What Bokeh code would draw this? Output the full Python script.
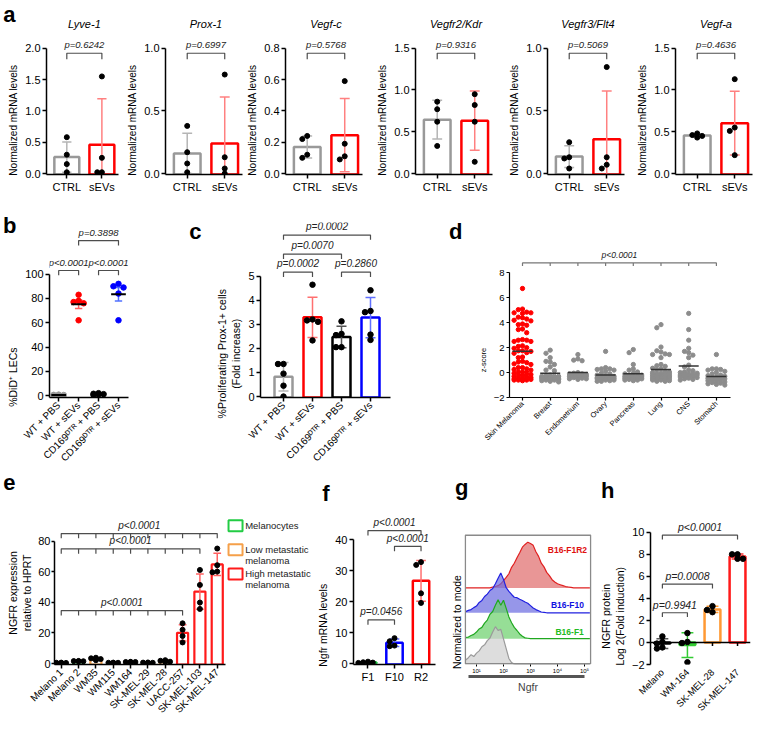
import math
import numpy as np
from bokeh.plotting import figure
from bokeh.models import Range1d, FixedTicker, LinearAxis, PrintfTickFormatter
from bokeh.layouts import row, column
from bokeh.embed import file_html
from bokeh.resources import INLINE
from bokeh.core.properties import value

FONT = "Liberation Sans"

# ------------------------------------------------------------------ data
a_genes = ["Lyve-1", "Prox-1", "Vegf-c", "Vegfr2/Kdr", "Vegfr3/Flt4", "Vegf-a"]
a_groups = ["CTRL", "sEVs"]
a_ctrl = [[0.58, 0.30, 0.15, 0.02], [0.38, 0.17, 0.08, 0.01], [0.24, 0.22, 0.12, 0.10],
          [0.86, 0.77, 0.62, 0.33], [0.25, 0.13, 0.12, 0.04], [0.48, 0.43, 0.46, 0.45]]
a_sevs = [[1.55, 0.25, 0.02, 0.02], [0.79, 0.13, 0.04, 0.0], [0.59, 0.19, 0.11, 0.09],
          [0.95, 0.82, 0.62, 0.14], [0.85, 0.13, 0.07, 0.04], [1.13, 0.55, 0.51, 0.22]]
a_ymax = [2.0, 1.0, 0.8, 1.5, 1.0, 1.5]
a_ystep = [0.5, 0.5, 0.2, 0.5, 0.5, 0.5]
a_pvals = ["p=0.6242", "p=0.6997", "p=0.5768", "p=0.9316", "p=0.5069", "p=0.4636"]

b_groups = ["WT + PBS", "WT + sEVs", "CD169\u1d30\u1d40\u1d3f + PBS", "CD169\u1d30\u1d40\u1d3f + sEVs"]
b_vals = [[0.8, 0.5, 0.3, 0.6], [83, 78, 77, 76, 62], [1.5, 2.0, 0.8, 1.2, 0.5], [92, 89, 90, 84, 62]]
b_pvals = ["p<0.0001", "p<0.0001", "p=0.3898"]

c_groups = b_groups
c_vals = [[1.35, 1.35, 0.95, 0.45, 0.0], [4.64, 3.16, 3.1, 3.2, 2.33],
          [3.12, 2.6, 2.55, 2.05, 2.05], [4.41, 3.55, 3.5, 2.57, 2.35]]
c_pvals = ["p=0.0002", "p=0.2860", "p=0.0070", "p=0.0002"]

d_groups = ["Skin Melanoma", "Breast", "Endometrium", "Ovary", "Pancreas", "Lung", "CNS", "Stomach"]
d_melanoma = [6.75, 5.05, 5.1, 4.85, 4.8, 4.75, 4.8, 4.4, 4.45, 4.3, 4.2, 4.15, 3.85, 3.9, 3.8,
              3.5, 3.45, 3.2, 2.65, 2.6, 2.6, 2.5, 2.5, 2.15, 2.1, 2.0, 1.95, 1.75, 1.7, 1.75,
              1.6, 1.55, 1.25, 1.2, 0.9, 0.85, 0.8, 0.7, 0.65, 0.4, 0.4, 0.3, 0.25, 0.2,
              0.05, 0.0, -0.05, 0.05, -0.2, -0.25, -0.2, -0.3, -0.15, -0.4, -0.45, -0.4, -0.5,
              -0.45, -0.6, -0.6, -0.55, -0.65, -0.6, -0.55]
d_breast = [1.8, 1.55, 1.2, 0.9, 0.85, 0.65, 0.45, 0.2, 0.15, -0.2, -0.25, -0.3, -0.3, -0.35,
            -0.4, -0.4, -0.45, -0.5, -0.5, -0.55, -0.55, -0.6, -0.6, -0.65, -0.7, -0.75, -0.5,
            -0.45, -0.35, -0.3]
d_endometrium = [1.45, 1.1, 1.0, 0.95, 0.0, -0.05, -0.1, -0.1, -0.15, -0.2, -0.2, -0.25, -0.3,
                 -0.3, -0.35, -0.4, -0.45, -0.5, -0.5, -0.55]
d_ovary = [1.7, 0.4, 0.3, 0.3, 0.25, 0.2, 0.1, -0.05, -0.1, -0.2, -0.25, -0.3, -0.3, -0.35, -0.4,
           -0.4, -0.45, -0.5, -0.5, -0.55, -0.6, -0.6, -0.65, -0.7, -0.7, -0.5, -0.45]
d_pancreas = [1.85, 1.6, 0.65, 0.3, 0.2, 0.05, -0.05, -0.1, -0.2, -0.25, -0.3, -0.3, -0.35, -0.4,
              -0.4, -0.45, -0.5, -0.5, -0.55, -0.6, -0.6, -0.65, -0.4, -0.3, -0.2]
d_lung = [3.85, 3.6, 2.05, 1.75, 1.65, 1.5, 1.45, 1.45, 1.2, 0.65, 0.55, 0.5, 0.35, 0.3, 0.2, 0.1,
          0.05, 0.0, -0.05, -0.1, -0.1, -0.15, -0.2, -0.2, -0.25, -0.3, -0.3, -0.35, -0.35, -0.4,
          -0.4, -0.45, -0.45, -0.5, -0.5, -0.55, -0.55, -0.6, -0.6, -0.65, -0.7, -0.7, -0.1,
          -0.2, -0.3]
d_cns = [4.75, 3.45, 2.6, 1.95, 1.7, 1.6, 1.4, 1.2, 0.6, 0.45, 0.2, 0.15, 0.05, 0.0, -0.05, -0.1,
         -0.15, -0.2, -0.25, -0.3, -0.3, -0.35, -0.4, -0.45, -0.5, -0.55, -0.6, -0.2, -0.1]
d_stomach = [1.45, 0.3, 0.3, 0.25, 0.2, 0.1, 0.0, -0.1, -0.2, -0.25, -0.3, -0.35, -0.4, -0.45,
             -0.5, -0.55, -0.6, -0.65, -0.7, -0.75, -0.8, -0.85, -0.9, -1.0, -0.95, -0.5, -0.4]
d_pval = "p<0.0001"

e_lines = ["Melano 1", "Melano 2", "WM35", "WM115", "WM164", "SK-MEL-29", "SK-MEL-28",
           "UACC-257", "SK-MEL-103", "SK-MEL-147"]
e_class = [0, 0, 1, 1, 1, 1, 1, 2, 2, 2]
e_class_names = ["Melanocytes", "Low metastatic\nmelanoma", "High metastatic\nmelanoma"]
e_vals = [[0.5, 0.3, 0.6, 0.4], [1.6, 1.5, 1.4, 1.7], [3.8, 3.4, 2.9, 2.2], [0.6, 0.5, 0.4, 0.5],
          [1.0, 1.1, 0.9, 1.0], [0.7, 0.5, 0.3, 0.6], [2.2, 1.8, 1.2, 1.0],
          [26.3, 22.1, 18.0, 13.8], [61.2, 51.4, 39.9, 35.7], [75.2, 64.3, 59.7, 60.1]]
e_pvals = ["p<0.0001", "p<0.0001", "p<0.0001"]

f_groups = ["F1", "F10", "R2"]
f_vals = [[0.3, 0.6, 0.2, 0.4], [8.2, 7.2, 5.6, 5.8], [32.8, 31.9, 22.7, 19.6]]
f_pvals = ["p<0.0001", "p<0.0001", "p=0.0456"]

g_names = ["B16-F1R2", "B16-F10", "B16-F1"]
g_logx = [round(0.6 + 0.1 * i, 1) for i in range(47)]
g_gray = [12, 18, 26, 21, 30, 36, 47, 52, 63, 70, 86, 100, 90, 93, 68, 42, 16, 5, 1] + [0] * 28
g_green = [3, 4, 8, 11, 17, 25, 29, 40, 48, 63, 70, 86, 100, 86, 99, 78, 56, 41, 29, 21, 12, 6, 2, 1] + [0] * 23
g_blue = [3, 6, 8, 13, 17, 26, 31, 41, 47, 56, 61, 73, 87, 100, 84, 63, 54, 46, 39, 38, 34, 31, 27, 24,
          18, 12, 8, 5, 2, 1] + [0] * 17
g_red = [0] * 10 + [2, 3, 5, 9, 16, 23, 31, 45, 54, 66, 77, 89, 95, 100, 97, 93, 79, 69, 54, 46, 34, 27,
                    18, 13, 9, 7, 5, 3, 2, 1] + [0] * 7

h_groups = ["Melano", "WM-164", "SK-MEL-28", "SK-MEL-147"]
h_vals = [[0.55, 0.05, -0.1, -0.45, -0.55], [0.85, 0.05, -0.05, -1.8], [3.3, 2.75, 2.95],
          [8.0, 8.0, 7.6, 7.6]]
h_pvals = ["p<0.0001", "p=0.0008", "p=0.9941"]


# ------------------------------------------------------------------ helpers
def base_fig(w, h, bl, br, bt, bb, xr, yr):
    p = figure(width=w, height=h, min_border_left=bl, min_border_right=br,
               min_border_top=bt, min_border_bottom=bb, x_range=Range1d(*xr), y_range=Range1d(*yr),
               output_backend="svg", toolbar_location=None, tools="", title=None)
    p.xgrid.visible = False
    p.ygrid.visible = False
    p.outline_line_color = None
    p.background_fill_color = "white"
    p.border_fill_color = "white"
    for ax in p.axis:
        ax.axis_line_width = 1.5
        ax.axis_line_color = "black"
        ax.major_tick_line_width = 1.5
        ax.major_tick_line_color = "black"
        ax.major_tick_out = 4
        ax.major_tick_in = 0
        ax.minor_tick_line_color = None
        ax.major_label_text_font = FONT
        ax.major_label_text_font_size = "11px"
        ax.major_label_text_color = "black"
        ax.major_label_standoff = 2
        ax.axis_label_text_font = FONT
        ax.axis_label_text_font_style = "normal"
        ax.axis_label_text_font_size = "10px"
        ax.axis_label_standoff = 3
        ax.axis_label_text_color = "black"
    return p


def ylabel(p, text, n_pad):
    # trailing no-break spaces push the rotated label down, so it centres on the drawn axis
    pad = "\u00a0" * n_pad
    p.yaxis.axis_label = "\n".join(ln + pad for ln in text.split("\n"))


def cat_axis(p, names, fs="11px", rot=None):
    n = len(names)
    p.xaxis.ticker = FixedTicker(ticks=list(range(1, n + 1)))
    p.xaxis.major_label_overrides = {i + 1: nm for i, nm in enumerate(names)}
    p.xaxis.major_label_text_font_size = fs
    if rot is not None:
        p.xaxis.major_label_orientation = rot


def letter_axis(p, ch, yv, standoff):
    yv = round(yv, 2)
    ax = LinearAxis(ticker=FixedTicker(ticks=[yv]), major_label_overrides={yv: ch},
                    axis_line_color=None, major_tick_line_color=None, minor_tick_line_color=None,
                    major_tick_out=0, major_tick_in=0, minor_tick_out=0, major_label_standoff=standoff,
                    major_label_text_font=FONT, major_label_text_font_style="bold",
                    major_label_text_font_size="22px", major_label_text_color="black")
    p.add_layout(ax, "left")


def bracket(p, x1, x2, y, leg, gap, text, fs="9.5px", ticks=False, color="#4d4d4d"):
    xs = [[x1, x1, x2, x2]]
    ys = [[y - leg, y, y, y - leg]]
    if ticks:
        for k in range(int(round(x1)) + 1, int(round(x2))):
            xs.append([k, k])
            ys.append([y, y - leg])
    p.multi_line(xs, ys, line_color=color, line_width=1.2)
    p.text(x=[(x1 + x2) / 2], y=[y + gap], text=[text], text_align="center", text_baseline="bottom",
           text_font=value(FONT), text_font_style="italic", text_font_size=fs, text_color="#222222")


def swarm(vals, ppu_y, ppu_x, dot, maxw):
    order = sorted(range(len(vals)), key=lambda i: -vals[i])
    placed = []
    offs = [0.0] * len(vals)
    cands = [0.0]
    k = 1
    while k * dot <= maxw + 1e-9:
        cands += [-k * dot, k * dot]
        k += 1
    for i in order:
        yp = vals[i] * ppu_y
        best, bestd = 0.0, -1
        for c in cands:
            dmin = min([math.hypot(c - px, yp - py) for px, py in placed] + [1e9])
            if dmin >= dot * 0.95:
                best = c
                break
            if dmin > bestd:
                best, bestd = c, dmin
        placed.append((best, yp))
        offs[i] = best / ppu_x
    return offs


def mean(v):
    return float(np.mean(v))


def sd(v):
    return float(np.std(v, ddof=1))


def errbars(p, xs, lo, hi, cap, colors, lw=1.5):
    p.segment(x0=xs, y0=lo, x1=xs, y1=hi, line_color=colors, line_width=lw)
    p.segment(x0=[x - cap for x in xs], y0=hi, x1=[x + cap for x in xs], y1=hi, line_color=colors, line_width=lw)
    p.segment(x0=[x - cap for x in xs], y0=lo, x1=[x + cap for x in xs], y1=lo, line_color=colors, line_width=lw)


def points(p, groups_vals, ppu_y, ppu_x, dot, maxw, colors, size):
    xs, ys, cs = [], [], []
    for gi, v in enumerate(groups_vals):
        offs = swarm(v, ppu_y, ppu_x, dot, maxw)
        for val, o in zip(v, offs):
            xs.append(gi + 1 + o)
            ys.append(val)
            cs.append(colors[gi])
    p.scatter(x=xs, y=ys, size=size, fill_color=cs, line_color=cs, marker="circle")


# ------------------------------------------------------------------ panel a  (row 0..195)
a_widths = [124, 120, 130, 132, 128, 127]
a_figs = []
for i in range(6):
    w, h = a_widths[i], 195
    bl, bt, bb = 40, 4, 20
    fw = 78
    br = w - bl - fw
    fh = h - bt - bb
    ymax = a_ymax[i]
    ppu = 126.0 / ymax
    y0 = -1.0 / ppu
    xppu = 38.0
    x0 = 1 - 22.0 / xppu
    p = base_fig(w, h, bl, br, bt, bb, (x0, x0 + fw / xppu), (y0, y0 + fh / ppu))
    ctrl, sev = a_ctrl[i], a_sevs[i]
    m = [mean(ctrl), mean(sev)]
    s = [sd(ctrl), sd(sev)]
    p.vbar(x=[1, 2], top=m, bottom=y0, width=27.0 / xppu, fill_color="white",
           line_color=["#999999", "#ff0000"], line_width=2.5)
    errbars(p, [1, 2], [m[0] - s[0], m[1] - s[1]], [m[0] + s[0], m[1] + s[1]], 5.0 / xppu,
            ["#b5b5b5", "#ff8080"], lw=1.5)
    points(p, [ctrl, sev], ppu, xppu, 5.0, 9.0, ["black", "black"], 5)
    bracket(p, 1, 2, ymax * 0.96, 6.0 / ppu, 3.0 / ppu, a_pvals[i])
    p.text(x=[1.5], y=[(174 - 24) / ppu], text=[a_genes[i]], text_align="center", text_baseline="middle",
           text_font=value(FONT), text_font_style="italic", text_font_size="11px", text_color="black")
    cat_axis(p, a_groups, fs="11px")
    p.yaxis.ticker = FixedTicker(ticks=[round(t, 3) for t in np.arange(0, ymax + 1e-9, a_ystep[i])])
    p.yaxis.formatter = PrintfTickFormatter(format="%.1f")
    p.yaxis.bounds = (y0, ymax)
    ylabel(p, "Normalized mRNA levels", 22)
    if i == 0:
        letter_axis(p, "a", (174 - 14) / ppu, -10)
    a_figs.append(p)

# ------------------------------------------------------------------ panel b  (row 195..470)
w, h, bl, br, bt, bb = 184, 275, 42, 56, 21, 71
fw, fh = w - bl - br, h - bt - bb
ppu = 1.27
y0 = -2.0 / ppu
xppu = 21.7
x0 = 1 - 10.0 / xppu
pb = base_fig(w, h, bl, br, bt, bb, (x0, x0 + fw / xppu), (y0, y0 + fh / ppu))
b_cols = ["#999999", "#ff0000", "#000000", "#0000ff"]
bm = [mean(v) for v in b_vals]
bsem = [sd(v) / math.sqrt(len(v)) for v in b_vals]
errbars(pb, [1, 2, 3, 4], [m - e for m, e in zip(bm, bsem)], [m + e for m, e in zip(bm, bsem)],
        4.0 / xppu, ["#b0b0b0", "#ff6060", "#555555", "#5070ff"], lw=1.5)
points(pb, b_vals, ppu, xppu, 5.5, 8.0, b_cols, 5.5)
pb.segment(x0=[x - 8.0 / xppu for x in [1, 2, 3, 4]], y0=bm, x1=[x + 8.0 / xppu for x in [1, 2, 3, 4]],
           y1=bm, line_color="black", line_width=2)
bracket(pb, 1, 2, 103, 5.0 / ppu, 3.0 / ppu, b_pvals[0])
bracket(pb, 3, 4, 103, 5.0 / ppu, 3.0 / ppu, b_pvals[1])
bracket(pb, 2, 4, 127.6, 5.0 / ppu, 3.0 / ppu, b_pvals[2])
cat_axis(pb, b_groups, fs="10px", rot=math.pi / 4)
pb.yaxis.ticker = FixedTicker(ticks=[0, 20, 40, 60, 80, 100])
pb.yaxis.bounds = (y0, 100)
ylabel(pb, "%DiD\u207a LECs", 46)
pb.yaxis.axis_label_text_font_size = "10.5px"
letter_axis(pb, "b", (397 - 219.5) / ppu, -12)

# ------------------------------------------------------------------ panel c
w, h, bl, br, bt, bb = 253, 275, 76, 47, 21, 71
fw, fh = w - bl - br, h - bt - bb
ppu = 25.2
y0 = -1.0 / ppu
xppu = 29.0
x0 = 1 - 23.0 / xppu
pc = base_fig(w, h, bl, br, bt, bb, (x0, x0 + fw / xppu), (y0, y0 + fh / ppu))
c_cols = ["#999999", "#ff0000", "#000000", "#0000ff"]
cm = [mean(v) for v in c_vals]
cs = [sd(v) for v in c_vals]
pc.vbar(x=[1, 2, 3, 4], top=cm, bottom=y0, width=18.0 / xppu, fill_color="white", line_color=c_cols,
        line_width=2.5)
errbars(pc, [1, 2, 3, 4], [m - e for m, e in zip(cm, cs)], [m + e for m, e in zip(cm, cs)],
        5.0 / xppu, ["#b5b5b5", "#ff7070", "#555555", "#6070ff"], lw=1.5)
points(pc, c_vals, ppu, xppu, 5.5, 11.0, ["black"] * 4, 5.5)
bracket(pc, 1, 2, 5.16, 5.0 / ppu, 3.0 / ppu, c_pvals[0], fs="10px")
bracket(pc, 3, 4, 5.16, 5.0 / ppu, 3.0 / ppu, c_pvals[1], fs="10px")
bracket(pc, 1, 3, 5.91, 5.0 / ppu, 3.0 / ppu, c_pvals[2], fs="10px")
bracket(pc, 1, 4, 6.7, 5.0 / ppu, 3.0 / ppu, c_pvals[3], fs="10px")
cat_axis(pc, c_groups, fs="10px", rot=math.pi / 4)
pc.yaxis.ticker = FixedTicker(ticks=[0, 1, 2, 3, 4, 5])
pc.yaxis.bounds = (y0, 5)
ylabel(pc, "%Proliferating Prox-1+ cells\n(Fold increase)", 30)
pc.yaxis.axis_label_text_font_size = "10.5px"
letter_axis(pc, "c", (398 - 226) / ppu, 11)

# ------------------------------------------------------------------ panel d
w, h, bl, br, bt, bb = 324, 275, 72, 31, 27, 71
fw, fh = w - bl - br, h - bt - bb
ppu = 12.6
xppu = 27.7
x0 = 1 - 13.0 / xppu
pd_ = base_fig(w, h, bl, br, bt, bb, (x0, x0 + fw / xppu), (-2, -2 + fh / ppu))
d_vals = [d_melanoma, d_breast, d_endometrium, d_ovary, d_pancreas, d_lung, d_cns, d_stomach]
d_cols = ["#ff0000"] + ["#8c8c8c"] * 7
points(pd_, d_vals, ppu, xppu, 4.2, 11.0, d_cols, 4.3)
dm = [mean(v) for v in d_vals]
pd_.segment(x0=[i + 1 - 10.0 / xppu for i in range(8)], y0=dm, x1=[i + 1 + 10.0 / xppu for i in range(8)],
            y1=dm, line_color="#333333", line_width=1.5)
bracket(pd_, 1, 8, 8.8, 3.0 / ppu, 2.5 / ppu, d_pval, fs="8.5px", ticks=True, color="#777777")
cat_axis(pd_, d_groups, fs="7.5px", rot=math.pi / 4)
pd_.yaxis.ticker = FixedTicker(ticks=[-2, 0, 2, 4, 6, 8])
pd_.yaxis.bounds = (-2, 8)
pd_.yaxis.major_label_text_font_size = "9.5px"
ylabel(pd_, "z-score", 48)
pd_.yaxis.axis_label_text_font_size = "7.5px"
for ax in pd_.axis:
    ax.axis_line_width = 1.2
    ax.major_tick_line_width = 1.2
    ax.major_tick_out = 3
letter_axis(pd_, "d", -2 + (399 - 231) / ppu, 13)

# ------------------------------------------------------------------ panel e  (row 470..742)
w, h, bl, br, bt, bb = 314, 272, 44, 0, 4, 77
fw, fh = w - bl - br, h - bt - bb
ppu = 1.5875
y0 = -1.0 / ppu
xppu = 18.0
fl = 8 + bl
x0 = 1 - (59.0 - fl) / xppu
pe = base_fig(w, h, bl, br, bt, bb, (x0, x0 + fw / xppu), (y0, y0 + fh / ppu))
for ax in pe.yaxis:
    ax.major_tick_out = 3
    ax.major_label_standoff = 1
    ax.axis_label_standoff = 2
e_bar_cols = ["#22cc44", "#f5a04a", "#ff1a1a"]
e_err_cols = ["#22cc44", "#f5a04a", "#ff6060"]
em = [mean(v) for v in e_vals]
es = [sd(v) for v in e_vals]
pe.vbar(x=list(range(1, 11)), top=em, bottom=y0, width=11.5 / xppu, fill_color="white",
        line_color=[e_bar_cols[c] for c in e_class], line_width=2.2)
errbars(pe, list(range(1, 11)), [m - e for m, e in zip(em, es)], [m + e for m, e in zip(em, es)],
        4.0 / xppu, [e_err_cols[c] for c in e_class], lw=1.5)
points(pe, e_vals, ppu, xppu, 5.0, 6.0, ["black"] * 10, 5)
bracket(pe, 1, 10, 85, 5.0 / ppu, 2.5 / ppu, e_pvals[0], fs="10px", ticks=True)
bracket(pe, 1, 9, 75, 5.0 / ppu, 2.5 / ppu, e_pvals[1], fs="10px", ticks=True)
bracket(pe, 1, 8, 34.6, 5.0 / ppu, 2.5 / ppu, e_pvals[2], fs="10px", ticks=True)
y_of = lambda py: (664 - py) / ppu
leg_px_y = [521, 546, 571]
leg_x = x0 + (240 - fl) / xppu
leg_tx = x0 + (250 - fl) / xppu
pe.rect(x=[leg_x] * 3, y=[y_of(v) for v in leg_px_y], width=14, height=11, width_units="screen",
        height_units="screen", fill_color="white", line_color=e_bar_cols, line_width=2)
tx, ty, tt = [], [], []
for k, nm in enumerate(e_class_names):
    for j, ln in enumerate(nm.split("\n")):
        tx.append(leg_tx)
        ty.append(y_of(leg_px_y[k] + 11 * j))
        tt.append(ln)
pe.text(x=tx, y=ty, text=tt, text_align="left", text_baseline="middle", text_font=value(FONT),
        text_font_size="9.5px", text_color="#222222")
cat_axis(pe, e_lines, fs="10px", rot=math.pi / 4)
pe.xaxis.bounds = (x0, x0 + (230.0 - fl) / xppu)
pe.yaxis.ticker = FixedTicker(ticks=[0, 20, 40, 60, 80])
pe.yaxis.bounds = (y0, 80)
ylabel(pe, "NGFR expression\nrelative to HPRT", 14)
pe.yaxis.axis_label_text_font_size = "10.5px"
letter_axis(pe, "e", y_of(476), -12)

# ------------------------------------------------------------------ panel f
w, h, bl, br, bt, bb = 128, 272, 36, 7, 8, 78
fw, fh = w - bl - br, h - bt - bb
ppu = 3.125
y0 = -1.0 / ppu
xppu = 27.5
x0 = 1 - 15.0 / xppu
pf = base_fig(w, h, bl, br, bt, bb, (x0, x0 + fw / xppu), (y0, y0 + fh / ppu))
f_cols = ["#22cc44", "#0000ff", "#ff0000"]
fm = [mean(v) for v in f_vals]
fsd = [sd(v) for v in f_vals]
pf.vbar(x=[1, 2, 3], top=fm, bottom=y0, width=17.0 / xppu, fill_color="white", line_color=f_cols,
        line_width=2.5)
errbars(pf, [1, 2, 3], [m - e for m, e in zip(fm, fsd)], [m + e for m, e in zip(fm, fsd)], 5.0 / xppu,
        ["#555555", "#6070ff", "#ff7070"], lw=1.5)
points(pf, f_vals, ppu, xppu, 5.0, 10.0, ["black"] * 3, 5)
bracket(pf, 1, 3, 43, 5.0 / ppu, 2.5 / ppu, f_pvals[0], fs="10px")
bracket(pf, 2, 3, 37.9, 5.0 / ppu, 2.5 / ppu, f_pvals[1], fs="10px")
bracket(pf, 1, 2, 14.1, 5.0 / ppu, 2.5 / ppu, f_pvals[2], fs="10px")
cat_axis(pf, f_groups, fs="11px")
pf.yaxis.ticker = FixedTicker(ticks=[0, 10, 20, 30, 40])
pf.yaxis.bounds = (y0, 40)
ylabel(pf, "Ngfr mRNA levels", 36)
pf.yaxis.axis_label_text_font_size = "10.5px"
letter_axis(pf, "f", (663 - 491) / ppu, -15)

# ------------------------------------------------------------------ panel g
w, h, bl, br, bt, bb = 154, 272, 22, 5, 10, 77
fw, fh = w - bl - br, h - bt - bb
gx0 = 0.556
gx1 = gx0 + fw / 27.0
pg = base_fig(w, h, bl, br, bt, bb, (gx0, gx1), (0, fh))
layers = [(g_red, 77, 0.46, "#e06a6a", "#e02020"), (g_blue, 52, 0.40, "#6a6ae0", "#2020e0"),
          (g_green, 26, 0.39, "#6ad06a", "#20a820"), (g_gray, 0, 0.38, "#cfcfcf", "#9a9a9a")]
for vals, base, k, fc, lc in layers:
    top = [base + v * k for v in vals]
    pg.varea(x=g_logx, y1=[base] * len(g_logx), y2=top, fill_color=fc, fill_alpha=0.7)
    pg.line(x=g_logx, y=top, line_color=lc, line_width=1.2)
pg.quad(left=[gx0 + 0.03], right=[gx1 - 0.03], bottom=[0.8], top=[130], fill_color=None,
        line_color="#8a8a8a", line_width=1.5)
pg.text(x=[4.37, 4.37, 4.45], y=[115, 60, 33], text=g_names, text_align="center",
        text_baseline="middle", text_font=value(FONT), text_font_style="bold", text_font_size="8.5px",
        text_color=["#e01010", "#1010e0", "#22bb22"])
pg.xaxis.ticker = FixedTicker(ticks=[1, 2, 3, 4, 5])
pg.xaxis.major_label_overrides = {1: "10\u00b9", 2: "10\u00b2", 3: "10\u00b3", 4: "10\u2074", 5: "10\u2075"}
pg.xaxis.major_label_text_font_size = "6px"
pg.xaxis.axis_line_color = None
pg.xaxis.major_tick_out = 2
pg.xaxis.major_tick_line_width = 1
pg.xaxis.major_label_standoff = 1
ax2 = LinearAxis(ticker=FixedTicker(ticks=[]), axis_label="Ngfr", axis_line_width=3,
                 axis_line_color="#555555", bounds=(0.70, 5.0), major_label_text_font_size="1px",
                 axis_label_text_font=FONT, axis_label_text_font_size="10.5px",
                 axis_label_text_font_style="normal", axis_label_standoff=4, major_tick_out=0,
                 minor_tick_out=0)
pg.add_layout(ax2, "below")
pg.yaxis.ticker = FixedTicker(ticks=[])
pg.yaxis.axis_line_color = None
pg.yaxis.major_tick_out = 0
ylabel(pg, "Normalized to mode", 34)
pg.yaxis.axis_label_text_font_size = "10.5px"
pg.yaxis.axis_label_standoff = 2
letter_axis(pg, "g", 665 - 487, -21)

# ------------------------------------------------------------------ panel h
w, h, bl, br, bt, bb = 165, 272, 53, 11, 10, 49
fw, fh = w - bl - br, h - bt - bb
ppu = 12.75
xppu = 25.3
x0 = 1 - 12.0 / xppu
ph = base_fig(w, h, bl, br, bt, bb, (x0, x0 + fw / xppu), (-2, -2 + fh / ppu))
h_cols = ["#000000", "#33cc33", "#ff9933", "#ff1a1a"]
hm = [mean(v) for v in h_vals]
hsd = [sd(v) for v in h_vals]
ph.vbar(x=[1, 2, 3, 4], top=hm, bottom=0, width=16.0 / xppu, fill_color="white", line_color=h_cols,
        line_width=2.5)
ph.segment(x0=[x0], y0=[0], x1=[x0 + fw / xppu], y1=[0], line_color="black", line_width=1.5)
ph.segment(x0=[1, 2, 3, 4], y0=[0] * 4, x1=[1, 2, 3, 4], y1=[-4.0 / ppu] * 4, line_color="black",
           line_width=1.5)
errbars(ph, [1, 2, 3, 4], [m - e for m, e in zip(hm, hsd)], [m + e for m, e in zip(hm, hsd)], 6.0 / xppu,
        ["#555555", "#33cc33", "#ff9933", "#ff3333"], lw=1.5)
points(ph, h_vals, ppu, xppu, 5.5, 9.0, ["black"] * 4, 5.5)
bracket(ph, 1, 4, 9.74, 5.0 / ppu, 2.5 / ppu, h_pvals[0], fs="10.5px")
bracket(ph, 1, 3, 5.3, 5.0 / ppu, 2.5 / ppu, h_pvals[1], fs="10.5px")
bracket(ph, 1, 2, 2.7, 5.0 / ppu, 2.5 / ppu, h_pvals[2], fs="10.5px")
cat_axis(ph, h_groups, fs="9.5px", rot=math.pi / 4)
ph.xaxis.axis_line_color = None
ph.xaxis.major_tick_line_color = None
ph.yaxis.ticker = FixedTicker(ticks=[-2, 0, 2, 4, 6, 8, 10])
ph.yaxis.bounds = (-2, 10)
ylabel(ph, "NGFR protein\nLog 2(Fold induction)", 30)
ph.yaxis.axis_label_text_font_size = "10.5px"
letter_axis(ph, "h", -2 + (693 - 492) / ppu, -18)

# ------------------------------------------------------------------ layout
layout = column(row(*a_figs), row(pb, pc, pd_), row(pe, pf, pg, ph))
open("out.html", "w").write(file_html(layout, INLINE))
